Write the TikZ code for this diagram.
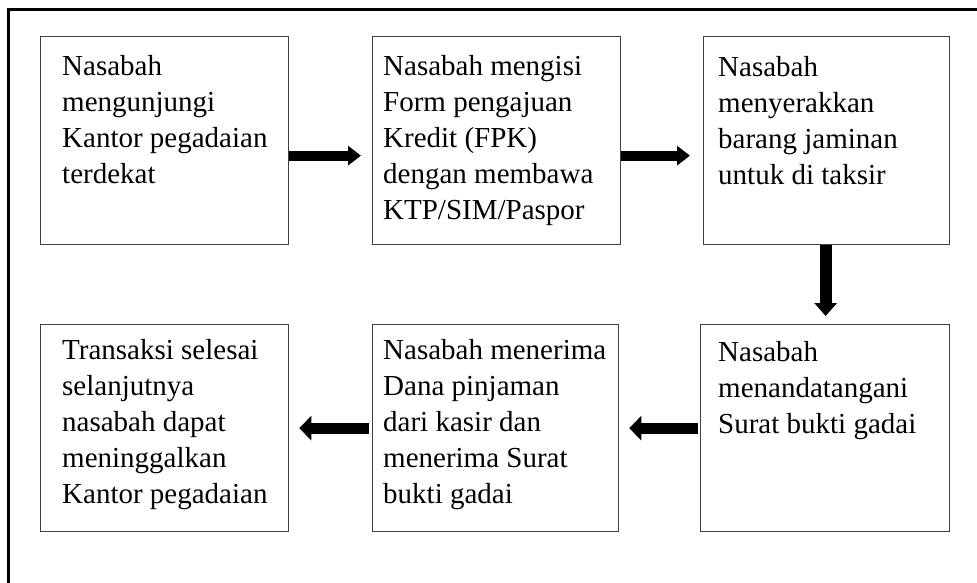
\documentclass[tikz,border=0pt]{standalone}
\usepackage{fontspec}
\setmainfont{Liberation Serif}
\usetikzlibrary{arrows.meta}
\begin{document}
\begin{tikzpicture}[x=1pt,y=-1pt,
  box/.style={draw=black!75, line width=1.3pt, inner sep=0pt, anchor=north west},
  txt/.style={inner sep=0pt, anchor=base west, font=\fontsize{29}{36.2}\selectfont},
  harrow/.style={line width=10pt, -{Triangle[length=13pt,width=19pt]}},
  varrow/.style={line width=12pt, -{Triangle[length=13pt,width=22pt]}},
  larrow/.style={line width=11pt, -{Triangle[length=12pt,width=24pt]}},
]
\useasboundingbox (0,0) rectangle (977,582);
\draw[line width=3pt] (982,9) -- (8,9) -- (8,586);

\node[box, minimum width=248pt, minimum height=208pt] (b1) at (40,36) {};
\node[box, minimum width=248pt, minimum height=208pt] (b2) at (372,36) {};
\node[box, minimum width=246pt, minimum height=208pt] (b3) at (703,36) {};
\node[box, minimum width=248pt, minimum height=207pt] (b4) at (40,324) {};
\node[box, minimum width=246pt, minimum height=207pt] (b5) at (372,324) {};
\node[box, minimum width=249pt, minimum height=207pt] (b6) at (700,324) {};

\node[txt] (t1) at (62,75) {\parbox[t]{240pt}{Nasabah\\mengunjungi\\Kantor pegadaian\\terdekat}};
\node[txt] (t2) at (383,75) {\parbox[t]{240pt}{Nasabah mengisi\\Form pengajuan\\Kredit (FPK)\\dengan membawa\\KTP/SIM/Paspor}};
\node[txt] (t3) at (718,76) {\parbox[t]{240pt}{Nasabah\\menyerakkan\\barang jaminan\\untuk di taksir}};
\node[txt] (t4) at (62,359) {\parbox[t]{240pt}{Transaksi selesai\\selanjutnya\\nasabah dapat\\meninggalkan\\Kantor pegadaian}};
\node[txt] (t5) at (383,359) {\parbox[t]{240pt}{Nasabah menerima\\Dana pinjaman\\dari kasir dan\\menerima Surat\\bukti gadai}};
\node[txt] (t6) at (718,361) {\parbox[t]{240pt}{Nasabah\\menandatangani\\Surat bukti gadai}};

\draw[harrow, shorten >=11pt] ([yshift=-15pt]b1.east) -- ([yshift=-15pt]b2.west);
\draw[harrow, shorten >=13pt] ([yshift=-15pt]b2.east) -- ([yshift=-15pt]b3.west);
\draw[varrow, shorten >=8pt] ([xshift=-1pt]b3.south) -- ([xshift=-1pt]b3.south |- b6.north);
\draw[larrow, shorten <=2pt, shorten >=10pt] (b6.west) -- (b5.east);
\draw[larrow, shorten <=3pt, shorten >=10pt] (b5.west) -- (b4.east);
\end{tikzpicture}
\end{document}
